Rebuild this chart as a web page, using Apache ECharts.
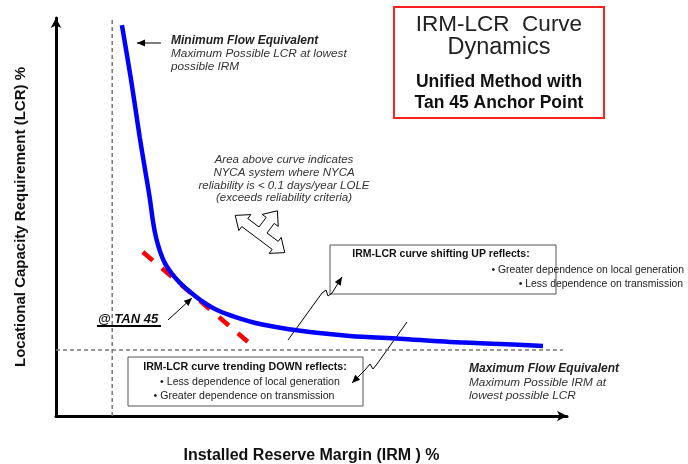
<!DOCTYPE html>
<html>
<head>
<meta charset="utf-8">
<script src="https://cdn.jsdelivr.net/npm/echarts@6/dist/echarts.min.js"></script>
<style>
  html, body { margin: 0; padding: 0; background: #fff; }
  #chart { width: 688px; height: 464px; }
</style>
</head>
<body>
<div id="chart"></div>
<script>
// IRM-LCR curve (x = IRM %, y = LCR %) on a 0-100 scale
const irmValues = [12.9, 14.7, 16.4, 17.6, 18.4, 19.0, 19.6, 20.4, 21.3, 22.7, 24.3, 26.2, 28.2, 31.1, 35.0, 39.9, 47.8, 57.5, 67.3, 77.1, 86.9, 95.3];
const lcrValues = [98.2, 84.4, 69.9, 60.6, 54.3, 48.7, 44.7, 41.2, 38.4, 35.7, 33.4, 31.2, 29.2, 26.9, 24.9, 23.1, 21.4, 20.1, 19.4, 18.6, 18.1, 17.6];

// tan 45 tangent line
const tangentIrm = [17.0, 37.6];
const tangentLcr = [41.2, 18.6];

// limits (dashed guides)
const minFlowIrm = 11.0;   // vertical guide
const minFlowTop = 99.5;
const maxFlowLcr = 16.6;   // horizontal guide
const maxFlowRight = 99.2;

const FONT = '"Liberation Sans", Arial, sans-serif';

function arrowHead(x1, y1, x2, y2, len, wid) {
    const a = Math.atan2(y2 - y1, x2 - x1);
    const c = Math.cos(a), s = Math.sin(a);
    const bx = x2 - len * c, by = y2 - len * s;
    return {
        type: 'polygon',
        shape: { points: [[x2, y2], [bx - wid * s, by + wid * c], [bx + wid * s, by - wid * c]] },
        style: { fill: '#000' }
    };
}

function arrow(points) {
    const n = points.length;
    return [
        { type: 'polyline', shape: { points: points }, style: { stroke: '#000', lineWidth: 1, fill: null } },
        arrowHead(points[n - 2][0], points[n - 2][1], points[n - 1][0], points[n - 1][1], 8, 3.5)
    ];
}

function crossArrow(cx, cy, deg) {
    const L = 31, M = 29, a = 12, h = 10, w = 5;
    const pts = [
        [-L, 0], [-L + a, -h], [-L + a, -w], [-w, -w], [-w, -M + a], [-h, -M + a], [0, -M],
        [h, -M + a], [w, -M + a], [w, -w], [L - a, -w], [L - a, -h], [L, 0],
        [L - a, h], [L - a, w], [-L + a, w], [-L + a, h]
    ];
    const t = deg * Math.PI / 180, c = Math.cos(t), s = Math.sin(t);
    return {
        type: 'polygon',
        shape: { points: pts.map(p => [cx + p[0] * c - p[1] * s, cy + p[0] * s + p[1] * c]) },
        style: { fill: '#fff', stroke: '#000', lineWidth: 1 }
    };
}

function txt(text, x, y, font, align, fill) {
    return {
        type: 'text',
        style: { text: text, x: x, y: y, font: font, align: align || 'left', verticalAlign: 'middle', fill: fill || '#222' }
    };
}

const chart = echarts.init(document.getElementById('chart'));

const graphics = [
    // title box
    { type: 'rect', shape: { x: 394, y: 7, width: 210, height: 111 }, style: { fill: '#fff', stroke: '#ff2020', lineWidth: 2 } },
    txt('IRM-LCR  Curve', 499, 25, '22.5px ' + FONT, 'center', '#222'),
    txt('Dynamics', 499, 48, '23.5px ' + FONT, 'center', '#222'),
    txt('Unified Method with', 499, 82, 'bold 17.5px ' + FONT, 'center', '#111'),
    txt('Tan 45 Anchor Point', 499, 103, 'bold 17.5px ' + FONT, 'center', '#111'),

    // minimum flow note
    txt('Minimum Flow Equivalent', 171, 41, 'italic bold 12px ' + FONT, 'left', '#222'),
    txt('Maximum Possible LCR at lowest', 171, 54, 'italic 11.8px ' + FONT, 'left', '#333'),
    txt('possible IRM', 171, 67, 'italic 11.8px ' + FONT, 'left', '#333'),
    ...arrow([[161, 43], [137, 43]]),

    // area note
    txt('Area above curve indicates', 284, 160, 'italic 11.5px ' + FONT, 'center', '#333'),
    txt('NYCA system where NYCA', 284, 173, 'italic 11.5px ' + FONT, 'center', '#333'),
    txt('reliability is < 0.1 days/year LOLE', 284, 186, 'italic 11.5px ' + FONT, 'center', '#333'),
    txt('(exceeds reliability criteria)', 284, 198, 'italic 11.5px ' + FONT, 'center', '#333'),
    crossArrow(260, 234, 36.9),

    // @ TAN 45
    txt('@ TAN 45', 98, 319, 'italic bold 13px ' + FONT, 'left', '#111'),
    { type: 'line', shape: { x1: 97, y1: 326, x2: 161, y2: 326 }, style: { stroke: '#000', lineWidth: 2 } },
    ...arrow([[168, 320], [192, 298]]),

    // shifting up box
    { type: 'rect', shape: { x: 330, y: 245, width: 226, height: 49 }, style: { fill: '#fff', stroke: '#555', lineWidth: 1 } },
    txt('IRM-LCR curve shifting UP reflects:', 441, 254, 'bold 10.5px ' + FONT, 'center', '#111'),
    txt('\u2022 Greater dependence on local generation', 684, 270, '10.4px ' + FONT, 'right', '#222'),
    txt('\u2022 Less dependence on transmission', 683, 284, '10.4px ' + FONT, 'right', '#222'),
    ...arrow([[288, 340], [322, 293], [326, 290], [328, 296], [332, 293], [342, 277]]),

    // trending down box
    { type: 'rect', shape: { x: 128, y: 357, width: 235, height: 49 }, style: { fill: '#fff', stroke: '#555', lineWidth: 1 } },
    txt('IRM-LCR curve trending DOWN reflects:', 245, 367, 'bold 10.7px ' + FONT, 'center', '#111'),
    txt('\u2022 Less dependence of local generation', 250, 382, '10.6px ' + FONT, 'center', '#222'),
    txt('\u2022 Greater dependence on transmission', 244, 396, '10.6px ' + FONT, 'center', '#222'),
    ...arrow([[407, 322], [377, 364], [373, 369], [370, 364], [365, 370], [352, 383]]),

    // maximum flow note
    txt('Maximum Flow Equivalent', 469, 369, 'italic bold 12px ' + FONT, 'left', '#222'),
    txt('Maximum Possible IRM at', 469, 383, 'italic 11.8px ' + FONT, 'left', '#333'),
    txt('lowest possible LCR', 469, 396, 'italic 11.8px ' + FONT, 'left', '#333')
];

const option = {
    backgroundColor: '#fff',
    animation: false,
    grid: { left: 56, right: 121, top: 18, bottom: 48, outerBoundsMode: 'none', containLabel: false },
    xAxis: {
        type: 'value', min: 0, max: 100,
        name: 'Installed Reserve Margin (IRM ) %',
        nameLocation: 'middle', nameGap: 32,
        nameTextStyle: { fontFamily: FONT, fontWeight: 'bold', fontSize: 16, color: '#111' },
        axisLine: { show: true, symbol: ['none', 'arrow'], symbolSize: [8, 10], lineStyle: { color: '#000', width: 3 } },
        axisTick: { show: false }, axisLabel: { show: false }, splitLine: { show: false }
    },
    yAxis: {
        type: 'value', min: 0, max: 100,
        name: 'Locational Capacity Requirement (LCR) %',
        nameLocation: 'middle', nameGap: 28, nameRotate: 90,
        nameTextStyle: { fontFamily: FONT, fontWeight: 'bold', fontSize: 15, color: '#111' },
        axisLine: { show: true, symbol: ['none', 'arrow'], symbolSize: [8, 10], lineStyle: { color: '#000', width: 3 } },
        axisTick: { show: false }, axisLabel: { show: false }, splitLine: { show: false }
    },
    series: [
        {
            name: 'min flow', type: 'line', symbol: 'none', silent: true,
            data: [[minFlowIrm, 0], [minFlowIrm, minFlowTop]],
            lineStyle: { color: '#777', width: 1.5, type: [4, 3] }
        },
        {
            name: 'max flow', type: 'line', symbol: 'none', silent: true,
            data: [[0, maxFlowLcr], [maxFlowRight, maxFlowLcr]],
            lineStyle: { color: '#777', width: 1.5, type: [4, 3] }
        },
        {
            name: 'tangent', type: 'line', symbol: 'none', silent: true, z: 3,
            data: tangentIrm.map((x, i) => [x, tangentLcr[i]]),
            lineStyle: { color: '#ff0000', width: 4.5, type: [13, 12] }
        },
        {
            name: 'IRM-LCR', type: 'line', symbol: 'none', smooth: 0.3, silent: true, z: 4,
            data: irmValues.map((x, i) => [x, lcrValues[i]]),
            lineStyle: { color: '#0000ff', width: 4.5 }
        }
    ],
    graphic: graphics
};
chart.setOption(option);
</script>
</body>
</html>
